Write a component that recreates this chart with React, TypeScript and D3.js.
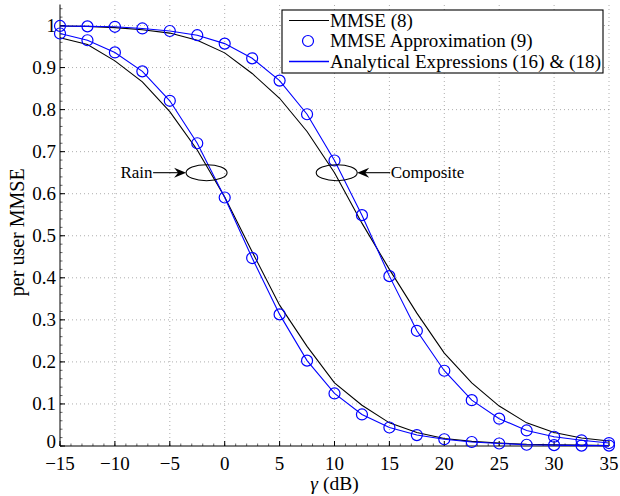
import React from "react";
import * as d3 from "d3";

const gammaDb = [-15, -12.5, -10, -7.5, -5, -2.5, 0, 2.5, 5, 7.5, 10, 12.5, 15, 17.5, 20, 22.5, 25, 27.5, 30, 32.5, 35];

const rainMmse = [0.971, 0.955, 0.916, 0.866, 0.795, 0.704, 0.592, 0.462, 0.335, 0.237, 0.15, 0.097, 0.055, 0.032, 0.018, 0.011, 0.007, 0.004, 0.003, 0.002, 0.001];
const rainApprox = [0.981, 0.965, 0.936, 0.891, 0.821, 0.72, 0.591, 0.447, 0.313, 0.203, 0.125, 0.075, 0.044, 0.026, 0.016, 0.0095, 0.006, 0.003, 0.002, 0.001, 0.001];
const compMmse = [0.999, 0.998, 0.995, 0.99, 0.982, 0.965, 0.935, 0.886, 0.827, 0.748, 0.65, 0.53, 0.42, 0.316, 0.221, 0.15, 0.095, 0.055, 0.032, 0.019, 0.012];
const compApprox = [0.999, 0.998, 0.997, 0.993, 0.987, 0.977, 0.957, 0.922, 0.869, 0.789, 0.679, 0.549, 0.404, 0.274, 0.179, 0.109, 0.065, 0.037, 0.022, 0.0135, 0.007];

const xTicks = [-15, -10, -5, 0, 5, 10, 15, 20, 25, 30, 35];
const yTicks = [0, 0.1, 0.2, 0.3, 0.4, 0.5, 0.6, 0.7, 0.8, 0.9, 1];
const legendLabels = ["MMSE (8)", "MMSE Approximation (9)", "Analytical Expressions (16) & (18)"];
const annotations = [
  { label: "Rain", cx: -1.65, cy: 0.65, side: "left" },
  { label: "Composite", cx: 10.2, cy: 0.65, side: "right" },
];

const W = 620, H = 496;
const left = 60, right = 609, top = 4.5, bottom = 446;
const FONT = "'Liberation Serif', 'Times New Roman', serif";
const BLUE = "#0000ff";

export default function App() {
  const x = d3.scaleLinear().domain([-15, 35]).range([left, right]);
  const y = d3.scaleLinear().domain([0, 1.05]).range([bottom, top]);
  const line = d3.line<number>().x((_, i) => x(gammaDb[i])).y((d) => y(d));

  const xMinor = d3.range(-15, 35.01, 1);
  const yMinor = d3.range(0, 1.051, 0.02);

  const blackSeries = [rainMmse, compMmse];
  const blueSeries = [rainApprox, compApprox];

  return (
    <svg width={W} height={H} style={{ position: "absolute", left: 0, top: 0, background: "#fff" }} fontFamily={FONT}>
      <rect x={0} y={0} width={W} height={H} fill="#fff" />
      {/* grid */}
      <g stroke="#999" strokeWidth={0.8} strokeDasharray="1,3">
        {xTicks.slice(1).map((t) => (
          <line key={"gx" + t} x1={x(t)} x2={x(t)} y1={bottom} y2={top} />
        ))}
        {yTicks.slice(1).map((t) => (
          <line key={"gy" + t} x1={left} x2={right} y1={y(t)} y2={y(t)} />
        ))}
      </g>
      {/* axes */}
      <g stroke="#000" strokeWidth={1}>
        <line x1={left} x2={left} y1={top} y2={bottom} />
        <line x1={left} x2={right} y1={bottom} y2={bottom} />
        {xTicks.map((t) => (
          <line key={"tx" + t} x1={x(t)} x2={x(t)} y1={bottom} y2={bottom - 5} />
        ))}
        {yTicks.map((t) => (
          <line key={"ty" + t} x1={left} x2={left + 5} y1={y(t)} y2={y(t)} />
        ))}
        {xMinor.map((t) => (
          <line key={"mx" + t} x1={x(t)} x2={x(t)} y1={bottom} y2={bottom - 2.5} strokeWidth={0.6} />
        ))}
        {yMinor.map((t) => (
          <line key={"my" + t} x1={left} x2={left + 2.5} y1={y(t)} y2={y(t)} strokeWidth={0.6} />
        ))}
      </g>
      {/* tick labels */}
      <g fontSize={19} fill="#000">
        {xTicks.map((t) => (
          <text key={"lx" + t} x={x(t)} y={469.5} textAnchor="middle">
            {t < 0 ? "\u2212" + Math.abs(t) : String(t)}
          </text>
        ))}
        {yTicks.map((t) => (
          <text key={"ly" + t} x={left - 4} y={t === 0 ? y(t) + 2 : y(t) + 6} textAnchor="end">
            {String(t)}
          </text>
        ))}
      </g>
      {/* axis labels */}
      <text x={(left + right) / 2} y={490} textAnchor="middle" fontSize={19.5}>
        <tspan fontStyle="italic">γ</tspan> (dB)
      </text>
      <text transform={`translate(24,${(top + bottom) / 2 + 7}) rotate(-90)`} textAnchor="middle" fontSize={20}>
        per user MMSE
      </text>
      {/* curves */}
      <g fill="none">
        {blackSeries.map((s, k) => (
          <path key={"b" + k} d={line(s) || ""} stroke="#000" strokeWidth={1.1} />
        ))}
        {blueSeries.map((s, k) => (
          <path key={"l" + k} d={line(s) || ""} stroke={BLUE} strokeWidth={1.1} />
        ))}
        {blueSeries.map((s, k) =>
          s.map((v, i) => (
            <circle key={"c" + k + "-" + i} cx={x(gammaDb[i])} cy={y(v)} r={5.5} stroke={BLUE} strokeWidth={1.2} />
          ))
        )}
      </g>
      {/* annotations */}
      {annotations.map((a) => {
        const cx = x(a.cx), cy = y(a.cy);
        const rx = 20.5, ry = 8;
        const tipX = a.side === "left" ? cx - rx : cx + rx;
        const tailX = a.side === "left" ? tipX - 33 : tipX + 33;
        const dir = a.side === "left" ? 1 : -1;
        return (
          <g key={a.label}>
            <ellipse cx={cx} cy={cy} rx={rx} ry={ry} fill="none" stroke="#000" strokeWidth={1.1} />
            <line x1={tailX} x2={tipX - dir * 6} y1={cy} y2={cy} stroke="#000" strokeWidth={1.1} />
            <path
              d={`M${tipX},${cy} L${tipX - dir * 12},${cy - 5} L${tipX - dir * 8},${cy} L${tipX - dir * 12},${cy + 5} Z`}
              fill="#000"
            />
            <text
              x={a.side === "left" ? tailX - 0.5 : tailX + 0.5}
              y={cy + 5.5}
              textAnchor={a.side === "left" ? "end" : "start"}
              fontSize={17}
            >
              {a.label}
            </text>
          </g>
        );
      })}
      {/* legend */}
      <g>
        <rect x={282} y={10} width={321} height={63} fill="#fff" stroke="#000" strokeWidth={1.1} />
        {legendLabels.map((lab, i) => {
          const ly = 20.5 + i * 20.5;
          return (
            <g key={lab}>
              {i === 0 && <line x1={289} x2={329} y1={ly} y2={ly} stroke="#000" strokeWidth={1.1} />}
              {i === 1 && <circle cx={308} cy={ly} r={5.5} fill="none" stroke={BLUE} strokeWidth={1.2} />}
              {i === 2 && <line x1={289} x2={329} y1={ly} y2={ly} stroke={BLUE} strokeWidth={1.4} />}
              <text x={330} y={ly + 6} fontSize={19} textLength={i === 2 ? 271 : undefined}>
                {lab}
              </text>
            </g>
          );
        })}
      </g>
    </svg>
  );
}
